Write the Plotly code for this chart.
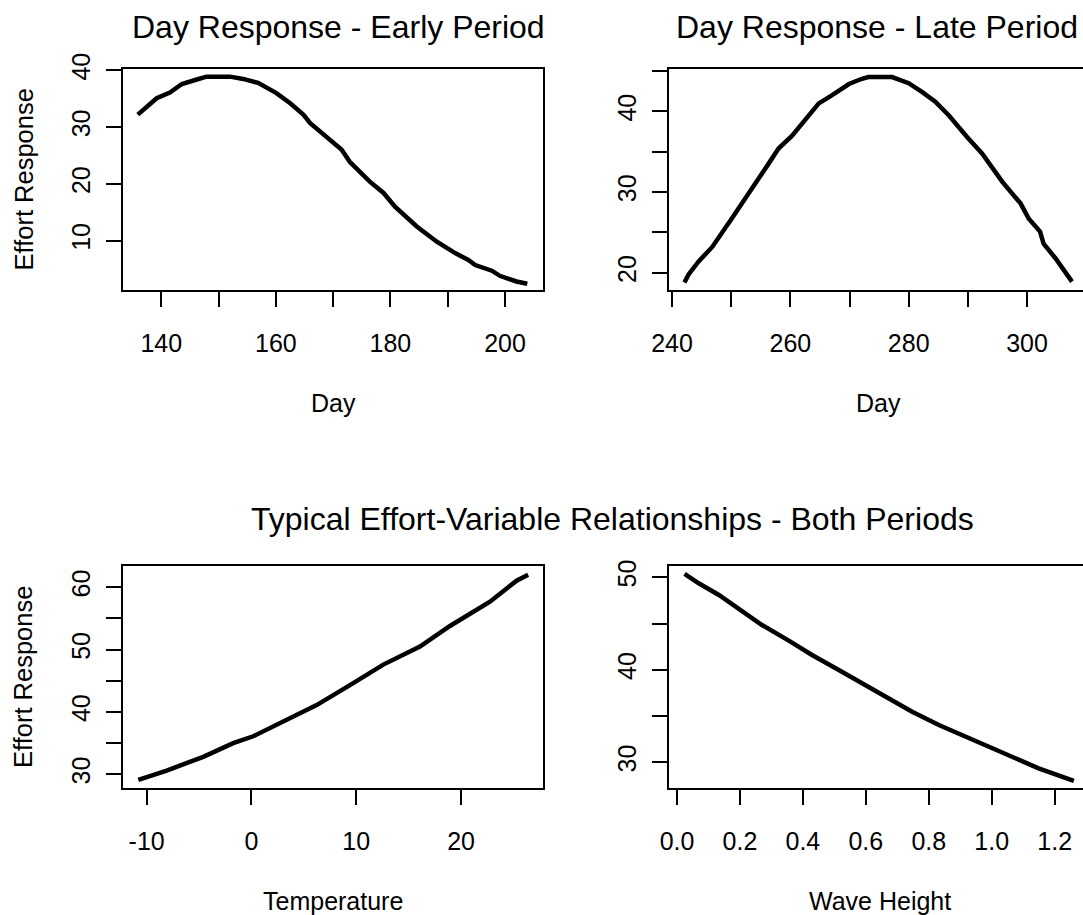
import plotly.graph_objects as go

W, H = 1083, 915

# ---- data ----
early_day = [135.9, 136.9, 139.2, 141.5, 143.6, 146.2, 147.9, 152.0, 154.3, 156.9, 160.1, 162.5,
             164.8, 166.0, 169.5, 171.5, 172.9, 176.4, 178.8, 180.8, 184.6, 188.1, 191.3, 193.6,
             194.8, 197.7, 199.1, 202.0, 203.9]
early_eff = [32.2, 33.1, 35.1, 36.1, 37.6, 38.4, 38.9, 38.9, 38.5, 37.8, 36.0, 34.2,
             32.2, 30.7, 27.8, 26.0, 23.9, 20.4, 18.4, 16.0, 12.5, 9.8, 7.8, 6.6,
             5.7, 4.7, 3.8, 2.8, 2.4]

late_day = [242.1, 242.8, 244.5, 246.8, 249.9, 252.1, 254.1, 256.3, 258.0, 260.3, 262.0, 263.4,
            264.8, 267.0, 269.9, 272.1, 273.2, 277.2, 280.0, 282.3, 284.5, 286.8, 288.5, 289.9,
            292.4, 294.6, 295.8, 298.9, 300.3, 302.2, 302.8, 304.8, 307.6]
late_eff = [18.8, 19.8, 21.4, 23.2, 26.5, 29.0, 31.1, 33.5, 35.4, 37.0, 38.5, 39.9,
            41.0, 42.0, 43.4, 44.05, 44.26, 44.26, 43.5, 42.4, 41.2, 39.5, 37.9, 36.8,
            34.8, 32.6, 31.3, 28.6, 26.7, 25.1, 23.6, 21.8, 18.9]

temperature = [-10.8, -8.09, -4.6, -1.74, 0.17, 3.03, 6.22, 9.4, 12.58, 16.08, 18.94, 22.76, 25.3, 26.4]
temp_eff = [29.1, 30.6, 32.8, 35.0, 36.1, 38.4, 41.1, 44.3, 47.6, 50.5, 53.8, 57.7, 61.06, 62.0]

wave_height = [0.024, 0.069, 0.133, 0.207, 0.270, 0.355, 0.429, 0.514, 0.598, 0.673, 0.747,
               0.832, 0.906, 0.990, 1.065, 1.149, 1.261]
wave_eff = [50.36, 49.35, 48.09, 46.28, 44.84, 43.15, 41.6, 39.98, 38.36, 36.9, 35.47,
            34.03, 32.95, 31.62, 30.6, 29.35, 28.0]

# tick values / labels
p1_xticks = [140, 150, 160, 170, 180, 190, 200]
p1_xlabels = ["140", "", "160", "", "180", "", "200"]
p1_yticks = [10, 20, 30, 40]
p1_ylabels = ["10", "20", "30", "40"]
p2_xticks = [240, 250, 260, 270, 280, 290, 300]
p2_xlabels = ["240", "", "260", "", "280", "", "300"]
p2_yticks = [20, 25, 30, 35, 40, 45]
p2_ylabels = ["20", "", "30", "", "40", ""]
p3_xticks = [-10, 0, 10, 20]
p3_xlabels = ["-10", "0", "10", "20"]
p3_yticks = [30, 35, 40, 45, 50, 55, 60]
p3_ylabels = ["30", "", "40", "", "50", "", "60"]
p4_xticks = [0.0, 0.2, 0.4, 0.6, 0.8, 1.0, 1.2]
p4_xlabels = ["0.0", "0.2", "0.4", "0.6", "0.8", "1.0", "1.2"]
p4_yticks = [30, 35, 40, 45, 50]
p4_ylabels = ["30", "", "40", "", "50"]

FONT = "Liberation Sans, Arial, Helvetica, sans-serif"


def px_x(p):
    return p / W


def px_y(p):
    return 1 - p / H


fig = go.Figure()
series = [(early_day, early_eff, "x", "y"), (late_day, late_eff, "x2", "y2"),
          (temperature, temp_eff, "x3", "y3"), (wave_height, wave_eff, "x4", "y4")]
for xs, ys, xa, ya in series:
    fig.add_trace(go.Scatter(x=xs, y=ys, mode="lines", xaxis=xa, yaxis=ya,
                             line=dict(color="black", width=4.5), showlegend=False,
                             hoverinfo="skip"))

L_DOM = [px_x(123.3), px_x(542.8)]
R_DOM = [px_x(668.7), 1.0]
T_DOM = [px_y(290), px_y(68.7)]
B_DOM = [px_y(788.3), px_y(565.7)]


def xax(domain, anchor, rng, tv, tt):
    return dict(domain=domain, anchor=anchor, range=rng, tickvals=tv, ticktext=tt,
                showline=True, linecolor="black", linewidth=2, mirror=True,
                ticks="outside", ticklen=15, tickwidth=2, tickcolor="black",
                showgrid=False, zeroline=False, ticklabelstandoff=15, automargin=False,
                tickfont=dict(family=FONT, size=25, color="black"))


def yax(domain, anchor, rng, tv, tt, mirror):
    return dict(domain=domain, anchor=anchor, range=rng, tickvals=tv, ticktext=tt,
                showline=True, linecolor="black", linewidth=2, mirror=mirror,
                ticks="outside", ticklen=15, tickwidth=2, tickcolor="black",
                showgrid=False, zeroline=False, tickangle=-90, ticklabelstandoff=6,
                automargin=False,
                tickfont=dict(family=FONT, size=25, color="black"))


fig.update_layout(
    template="none",
    width=W, height=H, margin=dict(l=0, r=0, t=0, b=0, pad=0, autoexpand=False),
    paper_bgcolor="white", plot_bgcolor="white", showlegend=False,
    xaxis=xax(L_DOM, "y", [133.37, 206.6], p1_xticks, p1_xlabels),
    yaxis=yax(T_DOM, "x", [1.3, 40.3], p1_yticks, p1_ylabels, True),
    xaxis2=xax(R_DOM, "y2", [239.44, 309.46], p2_xticks, p2_xlabels),
    yaxis2=yax(T_DOM, "x2", [17.86, 45.3], p2_yticks, p2_ylabels, False),
    xaxis3=xax(L_DOM, "y3", [-12.23, 27.8], p3_xticks, p3_xlabels),
    yaxis3=yax(B_DOM, "x3", [27.75, 63.47], p3_yticks, p3_ylabels, True),
    xaxis4=xax(R_DOM, "y4", [-0.0264, 1.290], p4_xticks, p4_xlabels),
    yaxis4=yax(B_DOM, "x4", [27.19, 51.25], p4_yticks, p4_ylabels, False),
)


def ann(text, x, y, size, angle=0):
    fig.add_annotation(text=text, x=px_x(x), y=px_y(y), xref="paper", yref="paper",
                       xanchor="center", yanchor="middle", showarrow=False, textangle=angle,
                       font=dict(family=FONT, size=size, color="black"))


ann("Day Response - Early Period", 338, 27, 32)
ann("Day Response - Late Period", 877, 27, 32)
ann("Typical Effort-Variable Relationships - Both Periods", 612, 519, 32)
ann("Day", 333, 403, 25)
ann("Day", 878, 403, 25)
ann("Temperature", 333, 901, 25)
ann("Wave Height", 880, 901, 25)
ann("Effort Response", 23, 179.5, 25.5, -90)
ann("Effort Response", 23, 677, 25.5, -90)

fig.write_html(
    "out.html",
    config={"displayModeBar": False},
    post_script="document.body.style.margin='0px';document.body.style.overflow='hidden';",
)
